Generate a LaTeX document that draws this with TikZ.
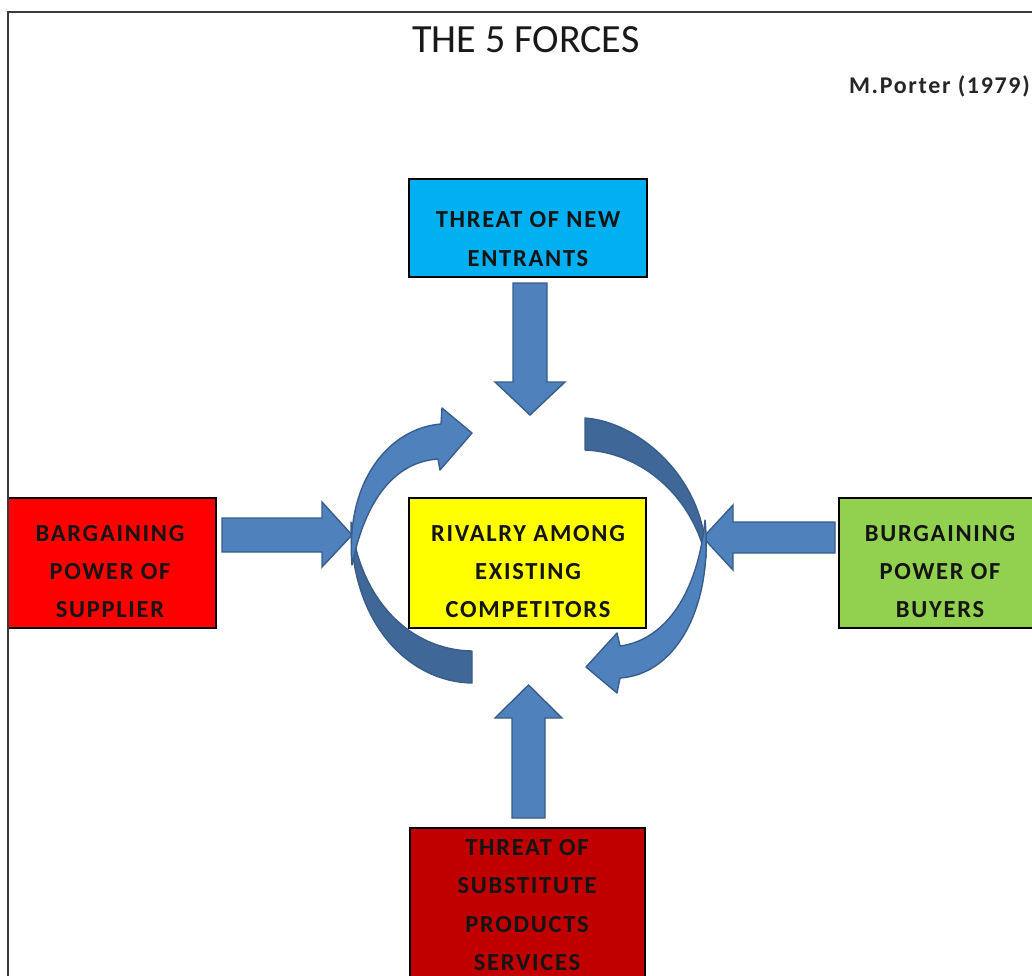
\documentclass[tikz,border=0pt]{standalone}
\usepackage{fontspec}
\setmainfont{Carlito}
\newfontfamily\boxfont{Carlito}[LetterSpace=7]
\definecolor{cyanbox}{HTML}{00B0F0}
\definecolor{redbox}{HTML}{FF0000}
\definecolor{yellowbox}{HTML}{FFFF00}
\definecolor{greenbox}{HTML}{92D050}
\definecolor{darkredbox}{HTML}{C00000}
\definecolor{arrowblue}{HTML}{4F81BD}
\definecolor{arrowdark}{HTML}{3F6797}
\definecolor{arrowedge}{HTML}{385D8A}
\definecolor{framegray}{HTML}{3A3A3A}
\tikzset{
  box/.style={draw=black, line width=2.2pt, inner sep=0pt},
  btext/.style={font=\boxfont\bfseries\fontsize{24.5}{38.3}\selectfont, align=center, inner sep=0pt, text=black!92},
  blk/.style={fill=arrowblue, draw=arrowedge, line width=1.4pt, line join=miter},
  backside/.style={fill=arrowdark, draw=arrowedge, line width=1.4pt, line join=round},
  frameline/.style={draw=framegray, line width=2.4pt}
}
\begin{document}
\begin{tikzpicture}[x=1pt,y=-1pt]
\useasboundingbox (0,0) rectangle (1032,975);
\clip (0,0) rectangle (1032,975);
% frame
\draw[frameline] (8,980) -- (8,12) -- (1040,12);
% title
\node[anchor=base, inner sep=0pt, font=\fontsize{40}{46}\selectfont, text=black!90] (title) at (526,52) {THE 5 FORCES};
\node[anchor=base east, inner sep=0pt, font=\boxfont\bfseries\fontsize{24}{28}\selectfont, text=black!85] (author) at (1030,93) {M.Porter (1979)};
% boxes
\node[box, fill=cyanbox, minimum width=238pt, minimum height=98pt] (entrants) at (528,228) {};
\node[box, fill=yellowbox, minimum width=237pt, minimum height=130pt] (rivalry) at (527.5,563) {};
\node[box, fill=redbox, minimum width=208pt, minimum height=130pt] (supplier) at (112,563) {};
\node[box, fill=greenbox, minimum width=260pt, minimum height=130pt, anchor=west] (buyers) at (838,563) {};
\node[box, fill=darkredbox, minimum width=235pt, minimum height=200pt, anchor=north] (subst) at (527.5,827) {};
\draw[frameline] (8,980) -- (8,490);
% texts
\node[btext] (entrantstxt) at (528,239) {THREAT OF NEW\\ENTRANTS};
\node[btext] (rivalrytxt) at (528,571.5) {RIVALRY AMONG\\EXISTING\\COMPETITORS};
\node[btext] (suppliertxt) at (110,571.5) {BARGAINING\\POWER OF\\SUPPLIER};
\node[btext] (buyerstxt) at (940,571.5) {BURGAINING\\POWER OF\\BUYERS};
\node[btext] (substtxt) at (527,905) {THREAT OF\\SUBSTITUTE\\PRODUCTS\\SERVICES};
% straight block arrows
\draw[blk] (513,283) -- (547,283) -- (547,382) -- (565,382) -- (530,415) -- (495,382) -- (513,382) -- cycle;
\draw[blk] (512,818) -- (512,718) -- (495,718) -- (528.5,685) -- (562,718) -- (545,718) -- (545,818) -- cycle;
\draw[blk] (222,518) -- (322,518) -- (322,502) -- (352,535) -- (322,567) -- (322,552) -- (222,552) -- cycle;
\draw[blk] (835,522) -- (733,522) -- (733,505) -- (703,537.5) -- (733,570) -- (733,553) -- (835,553) -- cycle;
% left curved arrow: back side (lower)
\draw[backside] (472,651) -- (472,683) .. controls (410,682) and (350,625) .. (351,522) .. controls (360,600) and (410,650) .. (472,651) -- cycle;
% left curved arrow: front side (upper, with head)
\draw[blk, line join=round] (352,565) .. controls (345,480) and (390,428) .. (441,424) -- (442,408) -- (472,433) -- (440,470) -- (438,459) .. controls (396,462) and (366,497) .. (352,565) -- cycle;
% right curved arrow: back side (upper)
\draw[backside] (585,418) .. controls (640,422) and (706,480) .. (706,558) .. controls (692,495) and (640,452) .. (585,450) -- cycle;
% right curved arrow: front side (lower, with head)
\draw[blk, line join=round] (705,520) .. controls (713,600) and (680,674) .. (620,678) -- (617,693) -- (586,667) -- (617,633) -- (620,646) .. controls (666,640) and (698,592) .. (705,520) -- cycle;
\end{tikzpicture}
\end{document}
